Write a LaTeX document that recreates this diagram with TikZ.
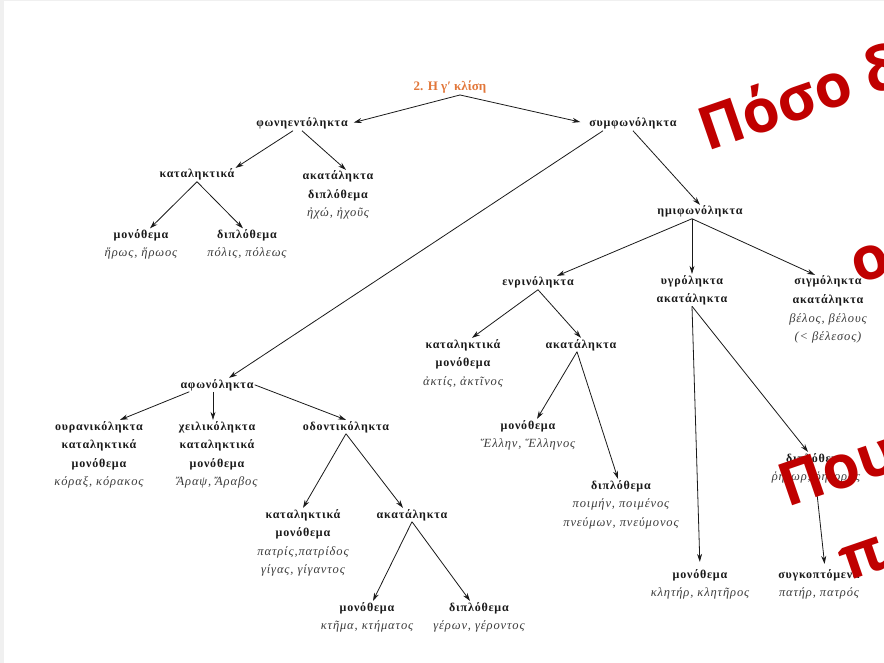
\documentclass[tikz,border=0pt]{standalone}
\usepackage{fontspec}
\setmainfont{Liberation Serif}
\newfontfamily\grbfam[LetterSpace=6.5]{Liberation Serif}
\newfontfamily\grifam[LetterSpace=7]{Liberation Serif}
\newfontfamily\redfam{Open Sans}
\usetikzlibrary{arrows.meta}
\definecolor{ink}{HTML}{1A1A1A}
\definecolor{exink}{HTML}{3C3C3C}
\definecolor{titleor}{HTML}{E2773A}
\definecolor{redov}{HTML}{C00000}
\definecolor{edgegray}{HTML}{F0F0F0}
\newcommand\grhead[1]{{\grbfam\bfseries\color{ink}#1}}
\newcommand\grex[1]{{\grifam\itshape\fontsize{12.5}{18.5}\selectfont\color{exink}#1}}
\begin{document}
\begin{tikzpicture}[x=1pt,y=-1pt,
  lbl/.style={align=center,inner sep=1pt,anchor=base,font=\fontsize{12}{18.5}\selectfont},
  arr/.style={draw=ink,line width=0.8pt,-{Stealth[length=8pt,width=5pt]}},
  redtxt/.style={text=redov,font=\redfam\bfseries\fontsize{60}{60}\selectfont,rotate=19,inner sep=0pt,anchor=base west}]
\useasboundingbox (0,0) rectangle (884,663);
\fill[edgegray] (0,0) rectangle (884,663);
\fill[white] (4,1) rectangle (884,663);

% anchor=base is the baseline of the last line of each node
\node[lbl] (title) at (450,91) {\textcolor{titleor}{\fontsize{13}{15}\selectfont\bfseries 2. Η γʹ κλίση}};
\node[lbl] (phon) at (302,127) {\grhead{φωνηεντόληκτα}};
\node[lbl] (symph) at (633,127) {\grhead{συμφωνόληκτα}};
\node[lbl] (katal1) at (197,178) {\grhead{καταληκτικά}};
\node[lbl] (akat1) at (338,217) {\grhead{ακατάληκτα}\\\grhead{διπλόθεμα}\\\grex{ἠχώ, ἠχοῦς}};
\node[lbl] (mono1) at (141,257) {\grhead{μονόθεμα}\\\grex{ἥρως, ἥρωος}};
\node[lbl] (dipl1) at (247,257) {\grhead{διπλόθεμα}\\\grex{πόλις, πόλεως}};
\node[lbl] (hemi) at (700,215) {\grhead{ημιφωνόληκτα}};
\node[lbl] (enrin) at (538,286) {\grhead{ενρινόληκτα}};
\node[lbl] (ygr) at (692,302.5) {\grhead{υγρόληκτα}\\\grhead{ακατάληκτα}};
\node[lbl] (sigm) at (828,340.5) {\grhead{σιγμόληκτα}\\\grhead{ακατάληκτα}\\\grex{βέλος, βέλους}\\\grex{(< βέλεσος)}};
\node[lbl] (katal2) at (463,385) {\grhead{καταληκτικά}\\\grhead{μονόθεμα}\\\grex{ἀκτίς, ἀκτῖνος}};
\node[lbl] (akat2) at (581,348) {\grhead{ακατάληκτα}};
\node[lbl] (aphon) at (217,388) {\grhead{αφωνόληκτα}};
\node[lbl] (our) at (99,485.5) {\grhead{ουρανικόληκτα}\\\grhead{καταληκτικά}\\\grhead{μονόθεμα}\\\grex{κόραξ, κόρακος}};
\node[lbl] (cheil) at (217,485.5) {\grhead{χειλικόληκτα}\\\grhead{καταληκτικά}\\\grhead{μονόθεμα}\\\grex{Ἄραψ, Ἄραβος}};
\node[lbl] (odont) at (346,430) {\grhead{οδοντικόληκτα}};
\node[lbl] (mono2) at (528,447.5) {\grhead{μονόθεμα}\\\grex{Ἕλλην, Ἕλληνος}};
\node[lbl] (dipl2) at (621,526) {\grhead{διπλόθεμα}\\\grex{ποιμήν, ποιμένος}\\\grex{πνεύμων, πνεύμονος}};
\node[lbl] (katal3) at (303,573.5) {\grhead{καταληκτικά}\\\grhead{μονόθεμα}\\\grex{πατρίς,πατρίδος}\\\grex{γίγας, γίγαντος}};
\node[lbl] (akat3) at (412,518) {\grhead{ακατάληκτα}};
\node[lbl] (mono3) at (367,629.5) {\grhead{μονόθεμα}\\\grex{κτῆμα, κτήματος}};
\node[lbl] (dipl3) at (479,629.5) {\grhead{διπλόθεμα}\\\grex{γέρων, γέροντος}};
\node[lbl] (dipl4) at (816,480.5) {\grhead{διπλόθεμα}\\\grex{ῥήτωρ, ῥήτορος}};
\node[lbl] (mono4) at (700,596.5) {\grhead{μονόθεμα}\\\grex{κλητήρ, κλητῆρος}};
\node[lbl] (synk) at (819,596.5) {\grhead{συγκοπτόμενα}\\\grex{πατήρ, πατρός}};

\draw[arr,shorten >=5pt] ([xshift=10pt]title.south) -- (phon.east);
\draw[arr,shorten >=8pt] ([xshift=10pt]title.south) -- (symph.west);
\draw[arr] ([xshift=-9pt]phon.south) -- (katal1.north east);
\draw[arr] (phon.south) -- ([xshift=8pt]akat1.north);
\draw[arr] (katal1.south) -- ([xshift=9pt]mono1.north);
\draw[arr] (katal1.south) -- ([xshift=-4pt]dipl1.north);
\draw[arr] ([xshift=-30pt]symph.south) -- ([xshift=12pt]aphon.north);
\draw[arr] (symph.south) -- (hemi.north);
\draw[arr] ([xshift=-8pt]hemi.south) -- ([xshift=19pt]enrin.north);
\draw[arr] ([xshift=-8pt]hemi.south) -- (ygr.north);
\draw[arr] ([xshift=-8pt]hemi.south) -- ([xshift=-13pt]sigm.north);
\draw[arr] (enrin.south) -- ([xshift=9pt]katal2.north);
\draw[arr] (enrin.south) -- (akat2.north);
\draw[arr] ([xshift=-4pt]akat2.south) -- ([xshift=9pt]mono2.north);
\draw[arr] ([xshift=-4pt]akat2.south) -- ([xshift=-3pt]dipl2.north);
\draw[arr,shorten >=6pt] (ygr.south) -- (mono4.north);
\draw[arr] (ygr.south) -- ([xshift=-8pt]dipl4.north);
\draw[arr,shorten >=4pt] (dipl4.south) -- ([xshift=6pt]synk.north);
\draw[arr] ([xshift=10pt]aphon.south west) -- ([xshift=21pt]our.north);
\draw[arr] ([xshift=-4pt]aphon.south) -- ([xshift=-4pt]cheil.north);
\draw[arr] (aphon.east) -- (odont.north);
\draw[arr] (odont.south) -- (katal3.north);
\draw[arr] (odont.south) -- ([xshift=-9pt]akat3.north);
\draw[arr] (akat3.south) -- ([xshift=6pt]mono3.north);
\draw[arr] (akat3.south) -- ([xshift=-9pt]dipl3.north);

\begin{scope}
\clip (0,0) rectangle (884,663);
\node[redtxt] (red1) at (707,152) {Πόσο δ};
\node[redtxt] (red2) at (858,285) {ο};
\node[redtxt] (red3) at (787,508) {Που};
\node[redtxt] (red4) at (847,582) {π};
\end{scope}
\end{tikzpicture}
\end{document}
